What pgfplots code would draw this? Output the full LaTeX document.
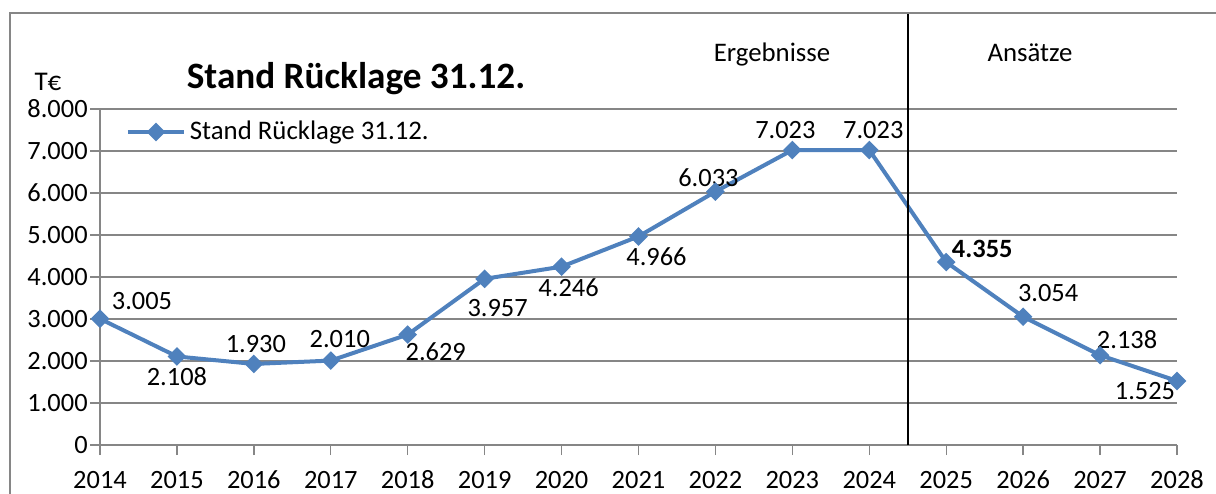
\documentclass[border=0pt]{standalone}
\usepackage{fontspec}
\setmainfont{Carlito}
\usepackage{pgfplots}
\pgfplotsset{compat=1.18}
\definecolor{serie}{RGB}{79,129,189}
\definecolor{gridc}{RGB}{134,134,134}
\begin{document}
\begin{tikzpicture}[lbl/.style={inner sep=0pt, font=\fontsize{13.2}{15}\selectfont}]
\begin{axis}[
  scale only axis, width=538.5pt, height=168pt,
  xmin=2014, xmax=2028, ymin=0, ymax=8000,
  xtick={2014,2015,...,2028}, ytick={0,1000,...,8000},
  axis lines*=left, clip=false,
  tick align=outside, major tick length=5pt,
  axis line style={gridc, line width=0.7pt},
  tick style={gridc, line width=0.7pt},
  ymajorgrids, grid style={gridc, line width=0.7pt},
  tick label style={inner sep=0pt, font=\fontsize{13.2}{15}\selectfont, /pgf/number format/assume math mode=true},
  xticklabel style={/pgf/number format/1000 sep={}, anchor=center, yshift=-12.5pt},
  yticklabel style={/pgf/number format/1000 sep={.}, anchor=east, xshift=-1pt},
  legend style={draw=none, fill=none, inner sep=0pt, outer sep=0pt, column sep=2pt,
    nodes={inner sep=0pt, font=\fontsize{13.4}{15}\selectfont},
    anchor=west, at={(0.0241,0.9315)}},
  legend image code/.code={\draw[mark repeat=2,mark phase=2] plot coordinates {(0pt,0pt) (14pt,0pt) (28pt,0pt)};},
]
\addplot[serie, line width=2pt, mark=square*, mark size=2.3pt, mark options={rotate=45, solid, fill=serie}]
  coordinates {
  (2014,3005) (2015,2108) (2016,1930) (2017,2010) (2018,2629)
  (2019,3957) (2020,4246) (2021,4966) (2022,6033) (2023,7023)
  (2024,7023) (2025,4355) (2026,3054) (2027,2138) (2028,1525)};
\addlegendentry{Stand Rücklage 31.12.}
\node[lbl, xshift=21pt,  yshift=9pt]   at (axis cs:2014,3005) {3.005};
\node[lbl, xshift=0pt,   yshift=-10pt] at (axis cs:2015,2108) {2.108};
\node[lbl, xshift=1pt,   yshift=10pt]  at (axis cs:2016,1930) {1.930};
\node[lbl, xshift=4.5pt, yshift=11pt]  at (axis cs:2017,2010) {2.010};
\node[lbl, xshift=14pt,  yshift=-8.5pt] at (axis cs:2018,2629) {2.629};
\node[lbl, xshift=6.5pt, yshift=-14.5pt] at (axis cs:2019,3957) {3.957};
\node[lbl, xshift=3.5pt, yshift=-10.5pt] at (axis cs:2020,4246) {4.246};
\node[lbl, xshift=9pt,   yshift=-10pt] at (axis cs:2021,4966) {4.966};
\node[lbl, xshift=-3.5pt, yshift=7pt]  at (axis cs:2022,6033) {6.033};
\node[lbl, xshift=-3.5pt, yshift=10pt] at (axis cs:2023,7023) {7.023};
\node[lbl, xshift=2pt,   yshift=10pt]  at (axis cs:2024,7023) {7.023};
\node[lbl, font=\fontsize{13.2}{15}\selectfont\bfseries, xshift=18pt, yshift=6.5pt] at (axis cs:2025,4355) {4.355};
\node[lbl, xshift=12.5pt, yshift=12pt] at (axis cs:2026,3054) {3.054};
\node[lbl, xshift=13.5pt, yshift=8pt]  at (axis cs:2027,2138) {2.138};
\node[lbl, xshift=-16pt, yshift=-5pt]  at (axis cs:2028,1525) {1.525};
\draw[black, line width=0.8pt] (axis cs:2024.5,0) -- ++(0pt,216pt);
\end{axis}
\draw[gridc, line width=0.7pt] ([shift={(-45pt,-60pt)}]current axis.south west) rectangle ([shift={(600pt,216pt)}]current axis.south west);
\node[inner sep=0pt, anchor=base, font=\fontsize{18.6}{22}\selectfont\bfseries] at ([shift={(128pt,178pt)}]current axis.south west) {Stand Rücklage 31.12.};
\node[inner sep=0pt, anchor=base, font=\fontsize{13.5}{15}\selectfont] at ([shift={(-26pt,177pt)}]current axis.south west) {T€};
\node[inner sep=0pt, anchor=base, font=\fontsize{13.4}{15}\selectfont] at ([shift={(336pt,191.5pt)}]current axis.south west) {Ergebnisse};
\node[inner sep=0pt, anchor=base, font=\fontsize{13.4}{15}\selectfont] at ([shift={(465pt,191.5pt)}]current axis.south west) {Ansätze};
\pgfresetboundingbox
\useasboundingbox ([shift={(-50pt,-24pt)}]current axis.south west) rectangle ([shift={(558pt,222.5pt)}]current axis.south west);
\end{tikzpicture}
\end{document}
